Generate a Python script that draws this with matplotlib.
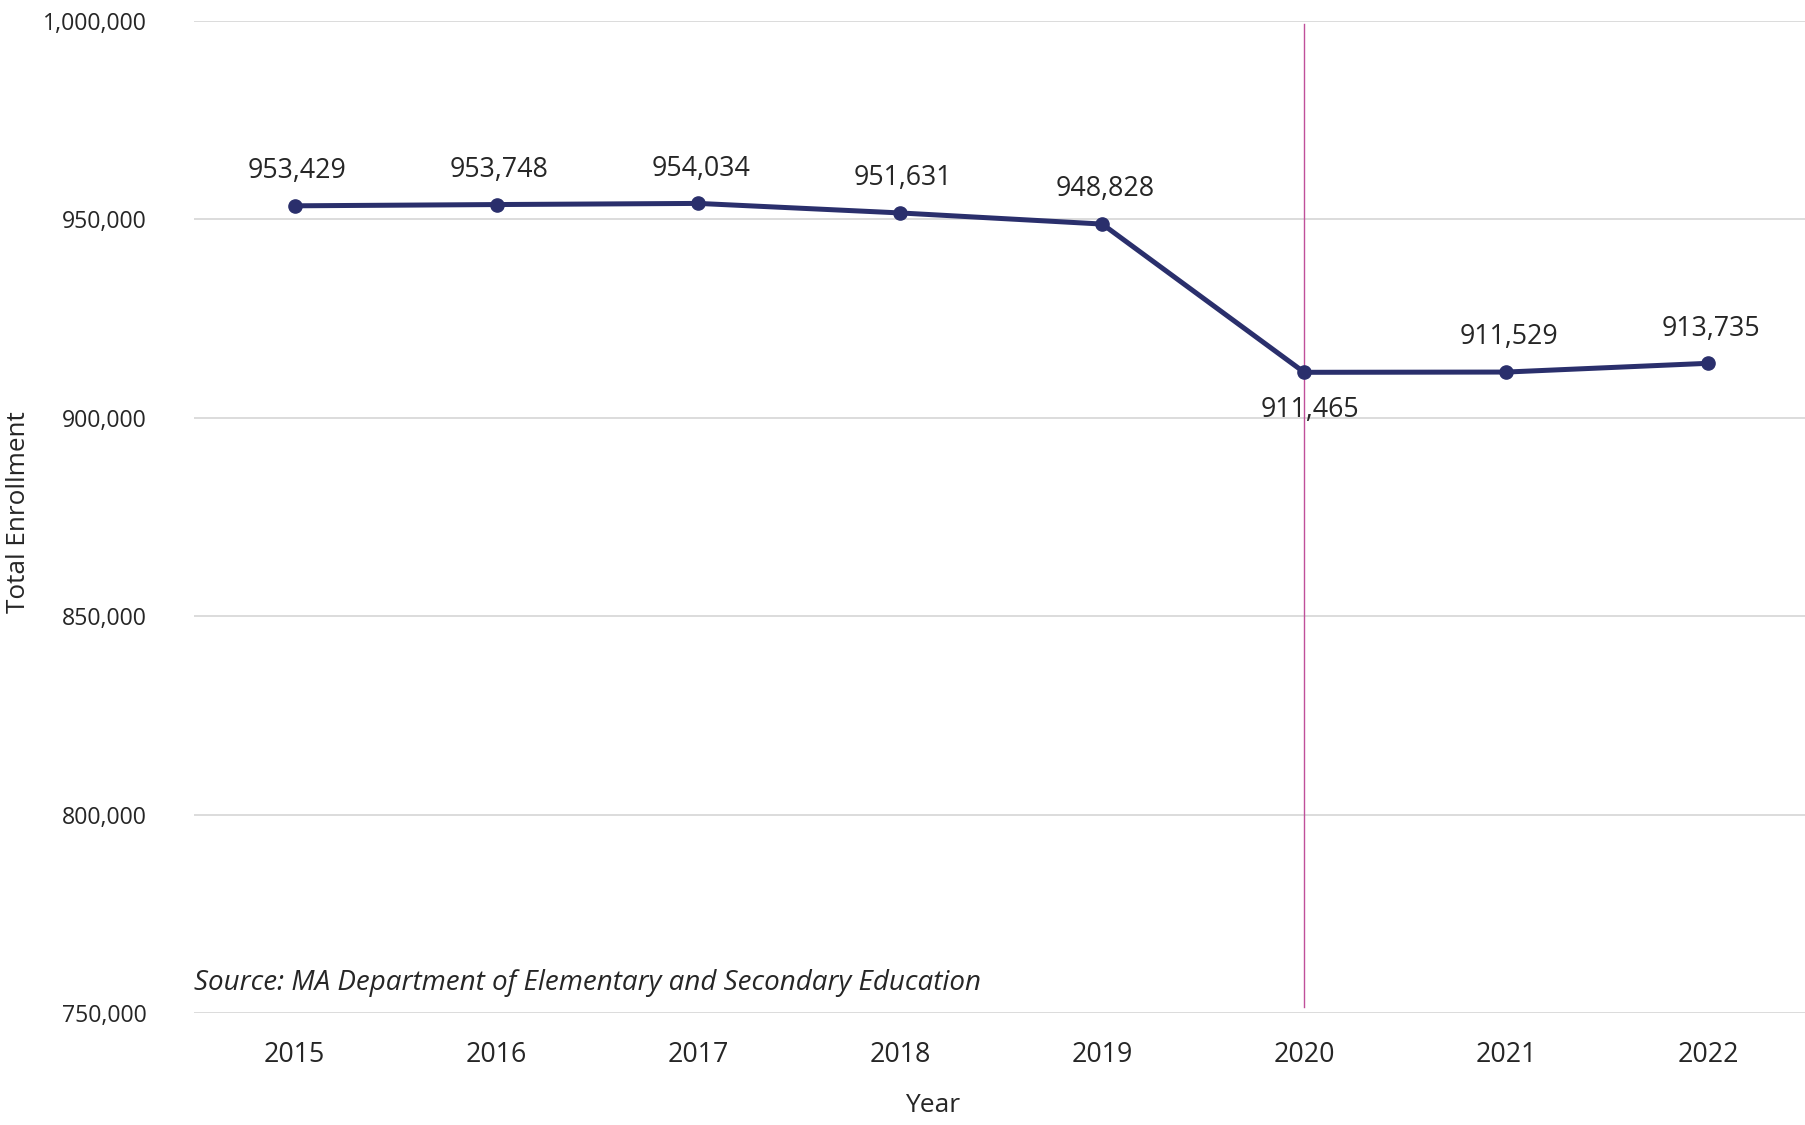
import matplotlib
matplotlib.use("Agg")
import matplotlib.pyplot as plt
from matplotlib.ticker import FuncFormatter

years = ["2015", "2016", "2017", "2018", "2019", "2020", "2021", "2022"]
enrollment = [953429, 953748, 954034, 951631, 948828, 911465, 911529, 913735]
label_below = [False, False, False, False, False, True, False, False]
yticks = [750000, 800000, 850000, 900000, 950000, 1000000]
marker_year = "2020"

plt.rcParams['font.family'] = ['Open Sans', 'DejaVu Sans']

fig = plt.figure(figsize=(18.05, 11.25), dpi=100)
ax = fig.add_axes([0.1073, 0.0996, 0.8949, 0.8817])

x = list(range(len(years)))
line_color = '#2a2f6c'
ax.plot(x, enrollment, color=line_color, lw=3.6, marker='o', markersize=9.5,
        solid_capstyle='round', zorder=3)

for xi, v, below in zip(x, enrollment, label_below):
    if below:
        ax.annotate(f"{v:,}", (xi, v), xytext=(4, -27), textcoords='offset points',
                    ha='center', va='center', fontsize=19.3, color='#262626')
    else:
        ax.annotate(f"{v:,}", (xi, v), xytext=(2, 25), textcoords='offset points',
                    ha='center', va='center', fontsize=19.3, color='#262626')

xv = years.index(marker_year)
ax.axvline(xv, ymin=0.006, ymax=0.997, color='#c0509a', lw=1.0, zorder=2)

ax.set_xlim(-0.5, len(years) - 0.5)
ax.set_ylim(yticks[0], yticks[-1])
ax.set_yticks(yticks)
ax.yaxis.set_major_formatter(FuncFormatter(lambda v, p: f"{int(v):,}"))
ax.set_xticks(x)
ax.set_xticklabels(years)
ax.grid(axis='y', color='#d9d9d9', lw=1.3)
ax.set_axisbelow(True)
for s in ax.spines.values():
    s.set_visible(False)
ax.tick_params(axis='both', length=0, colors='#262626')
ax.tick_params(axis='y', pad=34, labelsize=16.7)
ax.tick_params(axis='x', pad=20, labelsize=19.3)

ax.text(-0.5, 754000, "Source: MA Department of Elementary and Secondary Education",
        fontsize=20, style='italic', color='#262626', ha='left', va='bottom')

fig.text(0.0105, 0.545, "Total Enrollment", rotation=90, ha='center', va='center',
         fontsize=18.8, color='#262626')
fig.text(0.5165, 0.0175, "Year", ha='center', va='center', fontsize=19, color='#262626')

fig.savefig("out.png", dpi=100)
